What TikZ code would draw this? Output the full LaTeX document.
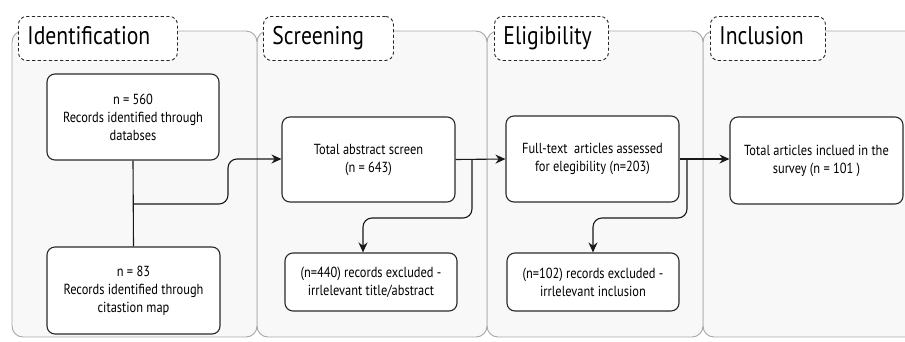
\documentclass[tikz,border=0pt]{standalone}
\usepackage{fontspec}
\setmainfont{PT Sans}[FakeStretch=0.85]
\usetikzlibrary{arrows.meta}
\definecolor{lanefill}{HTML}{F8F8F8}
\definecolor{laneline}{HTML}{A8A8A8}
\definecolor{boxline}{HTML}{2A2A2A}
\tikzset{
  lane/.style={draw=laneline, fill=lanefill, line width=0.9pt, rounded corners=11pt},
  phase/.style={draw=black!85, dashed, dash pattern=on 3.2pt off 2.4pt, line width=0.9pt,
    fill=white, rounded corners=8pt, anchor=north west, inner sep=0pt,
    minimum height=44pt, text height=18pt, text depth=5pt,
    font=\fontsize{25.5}{27}\selectfont, align=left},
  stepbox/.style={draw=boxline, fill=white, line width=1.1pt, rounded corners=8pt,
    align=center, inner sep=2pt, font=\fontsize{14.6}{18}\selectfont},
  flow/.style={draw=black!90, line width=1.1pt, rounded corners=9pt},
  tip/.style={-{Stealth[length=10pt,width=9pt]}}
}
\begin{document}
\begin{tikzpicture}[x=1pt,y=-1pt]
  \useasboundingbox (0,0) rectangle (905,341);
  % swim lanes
  \path[lane] (703,31) rectangle (930,337);
  \path[lane] (487,31) rectangle (703,337);
  \path[lane] (257,31) rectangle (487,337);
  \path[lane] (12,31) rectangle (257,337);
  % phase headings
  \node[phase, minimum width=159pt, text width=141pt] (h1) at (18,16) {Identification};
  \node[phase, minimum width=130pt, text width=112pt] (h2) at (263,16) {Screening};
  \node[phase, minimum width=114pt, text width=96pt] (h3) at (494,16) {Eligibility};
  \node[phase, minimum width=115pt, text width=97pt] (h4) at (710,16) {Inclusion};
  % process boxes
  \node[stepbox, minimum width=172pt, minimum height=86pt] (A) at (133,117)
    {n = 560\\Records identified through\\databses};
  \node[stepbox, minimum width=173pt, minimum height=87pt] (B) at (133.5,290.5)
    {n = 83\\Records identified through\\citastion map};
  \node[stepbox, minimum width=173pt, minimum height=85pt] (C) at (368.5,159.5)
    {Total abstract screen\\(n = 643)};
  \node[stepbox, minimum width=173pt, minimum height=86pt] (D) at (592.5,159)
    {Full-text\ \ articles assessed\\for elegibility (n=203)};
  \node[stepbox, minimum width=173pt, minimum height=87pt] (G) at (816.5,160.5)
    {Total articles inclued in the\\survey (n = 101 )};
  \node[stepbox, minimum width=172pt, minimum height=58pt] (E) at (371,282)
    {(n=440) records excluded -\\irrlelevant title/abstract};
  \node[stepbox, minimum width=172pt, minimum height=58pt] (F) at (593,282)
    {(n=102) records excluded -\\irrlelevant inclusion};
  % connectors
  \coordinate (J) at (133,204);
  \draw[flow] (A.south) -- (B.north);
  \draw[flow, tip] (J) -- (228,204) -- (228,159) -- (C.west |- 0,159);
  \draw[flow, tip] (C.east) -- (D.west);
  \draw[flow, tip] (D.east) -- (D.east -| G.west);
  \coordinate (xc) at (472,159.5);
  \coordinate (xd) at (687,159);
  \draw[flow, tip] (xc) -- (472,218) -- (363,218) -- (363,0 |- E.north);
  \draw[flow, tip] (xd) -- (687,218) -- (F.north |- 0,218) -- (F.north);
\end{tikzpicture}
\end{document}
